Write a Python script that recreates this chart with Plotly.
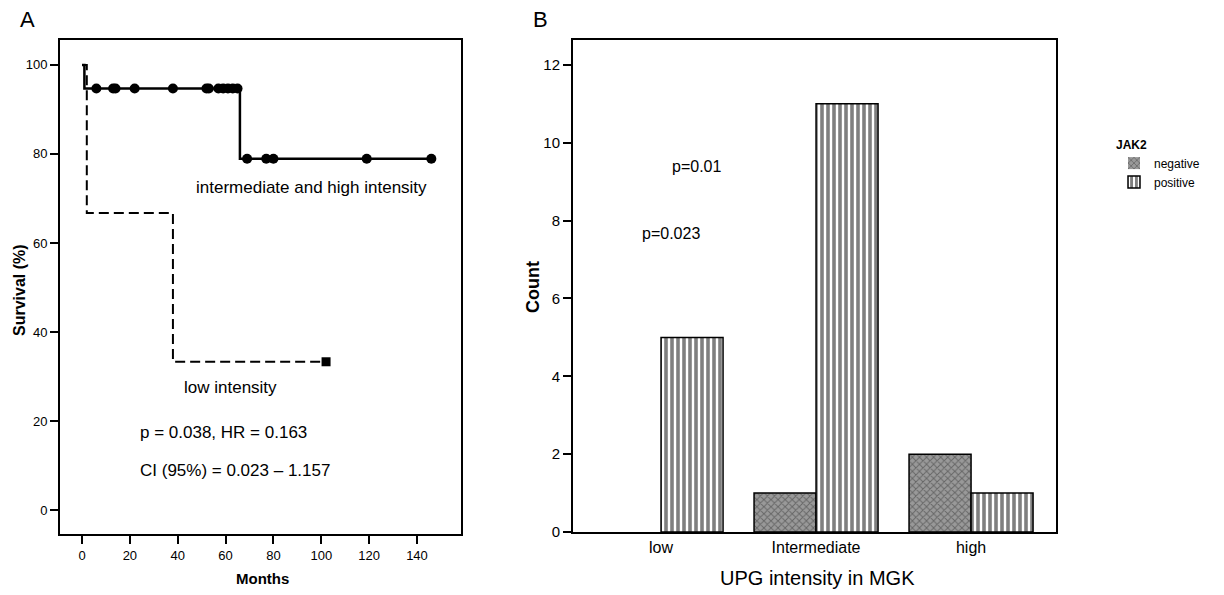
import plotly.graph_objects as go

# --- Panel A: Kaplan-Meier survival by UPG intensity ---
hi_times = [0, 1, 66, 146]
hi_surv = [100, 94.7, 78.9, 78.9]
hi_censor_t = [6, 13, 14, 22, 38, 52, 53, 57, 59, 61, 63, 65, 69, 77, 80, 119, 146]
hi_censor_s = [94.7] * 12 + [78.9] * 5

low_times = [0, 2, 38, 102]
low_surv = [100, 66.7, 33.3, 33.3]
low_censor_t = [102]
low_censor_s = [33.3]

km_ticks_x = [0, 20, 40, 60, 80, 100, 120, 140]
km_ticks_y = [0, 20, 40, 60, 80, 100]

# --- Panel B: JAK2 status counts per UPG intensity ---
categories = ["low", "Intermediate", "high"]
jak2_negative = [0, 1, 2]
jak2_positive = [5, 11, 1]
count_ticks = [0, 2, 4, 6, 8, 10, 12]

FONT = "Liberation Sans, Arial, sans-serif"
W, H = 1224, 595
H_EFF = 587  # rendered drawing height used for paper-coordinate placement

fig = go.Figure()

fig.add_trace(go.Scatter(
    x=hi_times, y=hi_surv, mode="lines", line=dict(color="black", width=2.5, shape="hv"),
    showlegend=False, xaxis="x", yaxis="y"))
fig.add_trace(go.Scatter(
    x=hi_censor_t, y=hi_censor_s, mode="markers",
    marker=dict(symbol="circle", size=10, color="black"),
    showlegend=False, xaxis="x", yaxis="y"))
fig.add_trace(go.Scatter(
    x=low_times, y=low_surv, mode="lines",
    line=dict(color="black", width=2, shape="hv", dash="10px,5px"),
    showlegend=False, xaxis="x", yaxis="y"))
fig.add_trace(go.Scatter(
    x=low_censor_t, y=low_censor_s, mode="markers",
    marker=dict(symbol="square", size=9, color="black"),
    showlegend=False, xaxis="x", yaxis="y"))


def outline_widths(values):
    # no outline for empty bars so the baseline stays a single axis line
    return [1.5 if v > 0 else 0 for v in values]


fig.add_trace(go.Bar(
    x=categories, y=jak2_negative, name="negative", xaxis="x2", yaxis="y2",
    marker=dict(color="#8a8a8a", line=dict(color="black", width=outline_widths(jak2_negative)),
                pattern=dict(shape="x", fgcolor="#333333", bgcolor="#999999",
                             size=5, solidity=0.35))))
fig.add_trace(go.Bar(
    x=categories, y=jak2_positive, name="positive", xaxis="x2", yaxis="y2",
    marker=dict(color="white", line=dict(color="black", width=outline_widths(jak2_positive)),
                pattern=dict(shape="|", fgcolor="black", bgcolor="white",
                             size=6, solidity=0.6))))

axis_common = dict(showline=True, linecolor="black", linewidth=2, mirror=True,
                   showgrid=False, zeroline=False, ticks="outside", ticklen=8,
                   tickwidth=2, tickcolor="black")


def px_x(px):
    return px / W


def px_y(px):
    return 1 - px / H_EFF


fig.update_layout(
    width=W, height=H, autosize=False,
    margin=dict(l=0, r=0, t=0, b=0, pad=0),
    paper_bgcolor="white", plot_bgcolor="white",
    font=dict(family=FONT, color="black"),
    barmode="group", bargap=0.2, bargroupgap=0,
    xaxis=dict(domain=[px_x(60), px_x(461)], range=[-9.2, 158.4],
               tickvals=km_ticks_x, tickfont=dict(size=13), anchor="y", **axis_common),
    yaxis=dict(domain=[px_y(534), px_y(40)], range=[-5.4, 105.6],
               tickvals=km_ticks_y, tickfont=dict(size=13), anchor="x", **axis_common),
    xaxis2=dict(domain=[px_x(573), px_x(1056)], range=[-0.568, 2.548],
                type="category", categoryorder="array", categoryarray=categories,
                tickfont=dict(size=16), anchor="y2",
                **{**axis_common, "ticks": ""}),
    yaxis2=dict(domain=[px_y(532), px_y(40)], range=[0, 12.64],
                tickvals=count_ticks, tickfont=dict(size=15), anchor="x2", **axis_common),
    legend=dict(x=px_x(1114), y=px_y(133), xanchor="left", yanchor="top",
                title=dict(text="<b>JAK2</b>", font=dict(size=12)),
                font=dict(size=12), bgcolor="rgba(0,0,0,0)", tracegroupgap=0),
)


def note(text, x, y, size, ref=("paper", "paper"), angle=0, xanchor="center"):
    return dict(text=text, x=x, y=y, xref=ref[0], yref=ref[1], showarrow=False,
                xanchor=xanchor, yanchor="middle", textangle=angle,
                font=dict(size=size))


annotations = [
    note("A", px_x(28), px_y(19), 22),
    note("B", px_x(540), px_y(19), 22),
    note("<b>Survival (%)</b>", px_x(20), px_y(290), 16, angle=-90),
    note("<b>Months</b>", px_x(262), px_y(578), 15),
    note("<b>Count</b>", px_x(533), px_y(287), 18, angle=-90),
    note("UPG intensity in MGK", px_x(817), px_y(578), 20),
    note("intermediate and high intensity", 96, 72.4, 17, ref=("x", "y")),
    note("low intensity", 62, 27.6, 17, ref=("x", "y")),
    note("p = 0.038, HR = 0.163", 23.4, 17.3, 17, ref=("x", "y"), xanchor="left"),
    note("CI (95%) = 0.023 \u2013 1.157", 23.4, 8.8, 17, ref=("x", "y"), xanchor="left"),
    note("p=0.01", 0.23, 9.38, 16, ref=("x2", "y2")),
    note("p=0.023", 0.065, 7.68, 16, ref=("x2", "y2")),
]
fig.update_layout(annotations=annotations)

fig.write_html("out.html")
